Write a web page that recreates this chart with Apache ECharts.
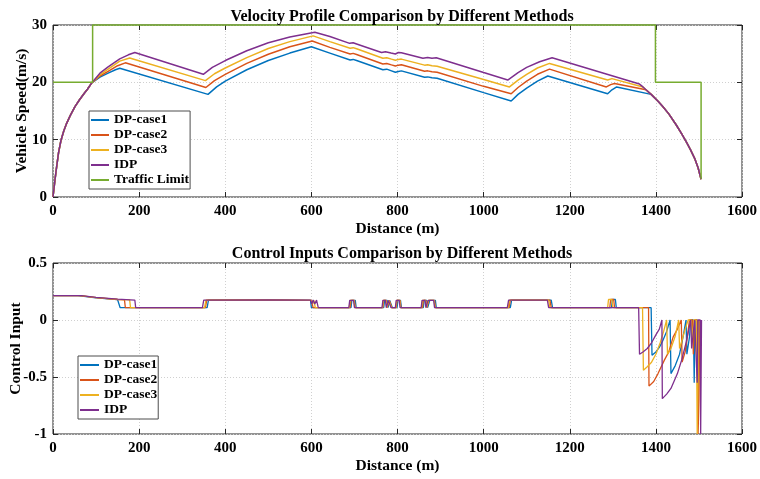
<!DOCTYPE html>
<html>
<head>
<meta charset="utf-8">
<script src="https://cdn.jsdelivr.net/npm/echarts@6/dist/echarts.min.js"></script>
<style>
html,body{margin:0;padding:0;background:#fff;}
#chart{width:760px;height:479px;}
</style>
</head>
<body>
<div id="chart"></div>
<script>
// ---------- data ----------
var xTicks = [0, 200, 400, 600, 800, 1000, 1200, 1400, 1600];
var speedTicks = [0, 10, 20, 30];
var ctrlTicks = [-1, -0.5, 0, 0.5];

// common acceleration start (distance m, speed m/s)
var launch = [[0,0],[2,0.2],[4.6,3.0],[8.5,5.3],[13,7.8],[18.6,9.9],[25,11.5],[31.7,12.85],[40,14.2],[51,15.75],[62,17.0],[72.7,18.1],[80,18.8],[90,19.9]];
// common braking tail
var brakeTail = [[1362,19.7],[1370,19.2],[1377,18.7],[1389,17.9],[1405,16.7],[1416,15.8],[1430,14.5],[1447,12.6],[1460,11.0],[1470,9.7],[1480,8.3],[1490,6.75],[1498,5.1],[1505,3.1]];

var dp1Speed = [[109,20.9],[128,21.6],[145,22.2],[155,22.45],[360,17.9],[380,19.2],[400,20.2],[450,22.2],[500,23.8],[550,25.1],[600,26.2],[643,25.1],[690,23.9],[697,24.0],[705,23.8],[766,22.2],[775,22.3],[786,22.0],[795,21.75],[802,21.9],[809,22.0],[863,20.9],[870,20.95],[880,20.8],[892,20.7],[1000,18.2],[1064,16.75],[1080,17.9],[1100,19.0],[1125,20.2],[1149,21.1],[1288,18.0],[1298,18.7],[1309,19.2]];
var dp2Speed = [[109,21.1],[128,21.9],[150,22.9],[168,23.4],[355,19.1],[375,20.3],[400,21.4],[450,23.3],[500,24.9],[550,26.2],[602,27.2],[643,26.1],[690,24.95],[697,25.05],[705,24.85],[766,23.2],[775,23.3],[786,23.05],[795,22.85],[802,23.0],[809,23.05],[863,21.95],[870,22.0],[880,21.85],[892,21.75],[1000,19.3],[1064,18.0],[1080,19.1],[1100,20.2],[1125,21.4],[1153,22.3],[1285,19.2],[1295,19.6],[1304,19.8]];
var dp3Speed = [[109,21.3],[128,22.3],[155,23.7],[178,24.25],[354,20.3],[375,21.5],[400,22.5],[450,24.3],[500,25.9],[550,27.1],[604,28.1],[643,27.1],[690,25.95],[697,26.05],[705,25.85],[766,24.2],[775,24.3],[786,24.05],[795,23.85],[802,24.0],[809,24.05],[863,23.0],[870,23.05],[880,22.9],[892,22.8],[1000,20.5],[1060,19.2],[1080,20.4],[1100,21.4],[1125,22.5],[1153,23.3],[1288,20.4],[1298,20.65]];
var idpSpeed = [[109,21.6],[128,22.7],[155,24.1],[175,24.8],[190,25.2],[349,21.4],[370,22.6],[400,23.8],[450,25.5],[500,26.9],[550,27.9],[608,28.75],[643,28.0],[689,26.8],[697,26.9],[705,26.7],[763,25.2],[772,25.35],[785,25.1],[795,24.95],[802,25.2],[809,25.15],[859,24.2],[870,24.35],[880,24.2],[890,24.3],[1000,21.7],[1056,20.4],[1080,21.7],[1100,22.6],[1130,23.6],[1159,24.3]];
var trafficLimit = [[0,20],[92,20],[92,30],[1399,30],[1399,20],[1505,20],[1505,3.2]];

// control inputs (distance m, input)
var dp1Ctrl = [[0,0.213],[58,0.213],[100,0.194],[150,0.178],[154,0.176],[156,0.108],[358,0.108],[361,0.175],[500,0.177],[598,0.172],[600,0.108],[692,0.108],[694,0.172],[702,0.172],[704,0.108],[768,0.108],[770,0.172],[776,0.172],[778,0.108],[780,0.108],[782,0.172],[786,0.172],[788,0.108],[799,0.108],[801,0.172],[807,0.172],[809,0.108],[860,0.108],[862,0.172],[868,0.172],[870,0.108],[873,0.108],[875,0.172],[888,0.172],[890,0.108],[1062,0.108],[1065,0.175],[1157,0.175],[1160,0.108],[1297,0.108],[1299,0.18],[1306,0.18],[1308,0.108],[1389,0.108],[1391,-0.31],[1400,-0.28],[1408,-0.24],[1415,-0.19],[1425,-0.1],[1433,0],[1435,-0.47],[1445,-0.4],[1455,-0.3],[1463,-0.15],[1470,0],[1472,-0.3],[1478,-0.15],[1481,0],[1487,0],[1489,-0.55],[1491,0],[1496,0],[1498,-0.85],[1500,0]];
var dp2Ctrl = [[0,0.213],[62,0.213],[100,0.196],[150,0.18],[166,0.176],[168,0.108],[354,0.108],[357,0.175],[500,0.177],[600,0.172],[604,0.108],[690,0.108],[692,0.172],[700,0.172],[702,0.108],[766,0.108],[768,0.172],[774,0.172],[776,0.108],[779,0.108],[781,0.172],[785,0.172],[787,0.108],[797,0.108],[799,0.172],[806,0.172],[808,0.108],[858,0.108],[860,0.172],[866,0.172],[868,0.108],[871,0.108],[873,0.172],[886,0.172],[888,0.108],[1059,0.108],[1062,0.175],[1154,0.175],[1157,0.108],[1293,0.108],[1295,0.18],[1302,0.18],[1304,0.108],[1383,0.108],[1384,-0.58],[1395,-0.54],[1405,-0.47],[1420,-0.35],[1430,-0.28],[1440,-0.15],[1450,-0.08],[1459,0],[1461,-0.37],[1468,-0.28],[1473,-0.15],[1478,0],[1485,0],[1487,-0.3],[1490,0],[1496,0],[1498,-1],[1500,-0.7],[1502,0]];
var dp3Ctrl = [[0,0.213],[64,0.213],[100,0.197],[150,0.181],[178,0.176],[180,0.108],[352,0.108],[355,0.175],[500,0.177],[600,0.172],[603,0.14],[606,0.172],[609,0.108],[688,0.108],[690,0.172],[699,0.172],[701,0.108],[765,0.108],[767,0.172],[773,0.172],[775,0.108],[778,0.108],[780,0.172],[784,0.172],[786,0.108],[796,0.108],[798,0.172],[805,0.172],[807,0.108],[856,0.108],[858,0.172],[865,0.172],[867,0.108],[870,0.108],[872,0.172],[885,0.172],[887,0.108],[1057,0.108],[1060,0.175],[1151,0.175],[1154,0.108],[1288,0.108],[1290,0.18],[1298,0.18],[1300,0.108],[1369,0.108],[1371,-0.44],[1380,-0.41],[1390,-0.37],[1400,-0.3],[1410,-0.2],[1418,-0.1],[1425,0],[1427,-0.3],[1435,-0.25],[1445,-0.14],[1453,0],[1455,-0.25],[1462,-0.16],[1468,-0.08],[1475,0],[1482,0],[1484,-0.2],[1488,0],[1494,0],[1496,-1],[1499,-1],[1500,0]];
var idpCtrl = [[0,0.213],[66,0.213],[100,0.199],[150,0.183],[190,0.175],[192,0.108],[347,0.108],[350,0.175],[500,0.177],[598,0.175],[601,0.14],[604,0.175],[608,0.14],[612,0.175],[616,0.108],[687,0.108],[689,0.172],[698,0.172],[700,0.108],[764,0.108],[766,0.172],[772,0.172],[774,0.108],[777,0.108],[779,0.172],[783,0.172],[785,0.108],[795,0.108],[797,0.172],[804,0.172],[806,0.108],[855,0.108],[857,0.172],[864,0.172],[866,0.108],[869,0.108],[871,0.172],[884,0.172],[886,0.108],[1055,0.108],[1058,0.175],[1148,0.175],[1151,0.108],[1360,0.108],[1362,-0.30],[1370,-0.28],[1380,-0.25],[1390,-0.2],[1400,-0.13],[1408,-0.08],[1414,0],[1415,-0.69],[1425,-0.65],[1435,-0.6],[1450,-0.47],[1460,-0.35],[1470,-0.2],[1481,0],[1483,-0.25],[1490,0],[1494,0],[1496,-0.55],[1498,0],[1503,0],[1504,-1],[1505,-1],[1506,0]];

var names = ['DP-case1', 'DP-case2', 'DP-case3', 'IDP', 'Traffic Limit'];
var colors = ['#0072BD', '#D95319', '#EDB120', '#7E2F8E', '#77AC30'];

// ---------- chart ----------
var FONT = '"Liberation Serif", "Times New Roman", serif';
var chart = echarts.init(document.getElementById('chart'), null, {renderer: 'canvas'});

var grids = [
  {left: 53, right: 18, top: 25, height: 172, show: true, borderColor: '#262626', borderWidth: 1,
   backgroundColor: '#fff', containLabel: false, outerBoundsMode: 'none'},
  {left: 53, right: 18, top: 263, height: 171, show: true, borderColor: '#262626', borderWidth: 1,
   backgroundColor: '#fff', containLabel: false, outerBoundsMode: 'none'}
];

function plainNum(v) { return String(v); }

function mainX(gi) {
  return {
    type: 'value', gridIndex: gi, min: 0, max: 1600, interval: 200, position: 'bottom',
    name: 'Distance (m)', nameLocation: 'middle', nameGap: 24, nameMoveOverlap: false,
    nameTextStyle: {fontFamily: FONT, fontWeight: 'bold', fontSize: 15.5, color: '#000'},
    axisLine: {show: false, onZero: false},
    axisTick: {show: true, inside: true, length: 5, lineStyle: {color: '#262626'}},
    axisLabel: {fontFamily: FONT, fontWeight: 'bold', fontSize: 15, color: '#000', margin: 7, formatter: plainNum},
    splitLine: {show: true, lineStyle: {color: '#d0d0d0', type: [1, 2], width: 1}}
  };
}
function topX(gi) {
  return {
    type: 'value', gridIndex: gi, min: 0, max: 1600, interval: 200, position: 'top',
    axisLine: {show: false, onZero: false},
    axisTick: {show: true, inside: true, length: 5, lineStyle: {color: '#262626'}},
    axisLabel: {show: false}, splitLine: {show: false}
  };
}
function yAxes(gi, min, max, interval, name, gap) {
  return [{
    type: 'value', gridIndex: gi, min: min, max: max, interval: interval, position: 'left',
    name: name, nameLocation: 'middle', nameGap: gap, nameRotate: 90, nameMoveOverlap: false,
    nameTextStyle: {fontFamily: FONT, fontWeight: 'bold', fontSize: 15.5, color: '#000'},
    axisLine: {show: false, onZero: false},
    axisTick: {show: true, inside: true, length: 5, lineStyle: {color: '#262626'}},
    axisLabel: {fontFamily: FONT, fontWeight: 'bold', fontSize: 15, color: '#000', margin: 6, formatter: plainNum},
    splitLine: {show: true, lineStyle: {color: '#d0d0d0', type: [1, 2], width: 1}}
  }, {
    type: 'value', gridIndex: gi, min: min, max: max, interval: interval, position: 'right',
    axisLine: {show: false, onZero: false},
    axisTick: {show: true, inside: true, length: 5, lineStyle: {color: '#262626'}},
    axisLabel: {show: false}, splitLine: {show: false}
  }];
}

function lineSeries(name, data, xi, yi, color, width, extra) {
  var s = {
    name: name, type: 'line', data: data, xAxisIndex: xi, yAxisIndex: yi,
    symbol: 'none', showSymbol: false, smooth: false, animation: false,
    lineStyle: {color: color, width: width}, itemStyle: {color: color},
    emphasis: {disabled: true}
  };
  if (extra) { for (var k in extra) s[k] = extra[k]; }
  return s;
}

var speedSets = [launch.concat(dp1Speed, brakeTail.slice(3)),
                 launch.concat(dp2Speed, brakeTail.slice(2)),
                 launch.concat(dp3Speed, brakeTail.slice(1)),
                 launch.concat(idpSpeed, brakeTail)];
var ctrlSets = [dp1Ctrl, dp2Ctrl, dp3Ctrl, idpCtrl];

var series = [];
for (var i = 0; i < 4; i++) series.push(lineSeries(names[i], speedSets[i], 0, 0, colors[i], 1.5));
series.push(lineSeries(names[4], trafficLimit, 0, 0, colors[4], 1.5, {clip: false}));
for (var j = 0; j < 4; j++) series.push(lineSeries(names[j], ctrlSets[j], 2, 2, colors[j], 1.3));

var legendText = {fontFamily: FONT, fontWeight: 'bold', fontSize: 13.5, color: '#000', lineHeight: 14};

var y0 = yAxes(0, 0, 30, 10, 'Vehicle Speed(m/s)', 23);
var y1 = yAxes(1, -1, 0.5, 0.5, 'Control Input', 29);

chart.setOption({
  backgroundColor: '#fff',
  animation: false,
  title: [
    {text: 'Velocity Profile Comparison by Different Methods', left: 397, top: 4, textAlign: 'center',
     textStyle: {fontFamily: FONT, fontWeight: 'bold', fontSize: 16, color: '#000'}},
    {text: 'Control Inputs Comparison by Different Methods', left: 397, top: 241, textAlign: 'center',
     textStyle: {fontFamily: FONT, fontWeight: 'bold', fontSize: 16, color: '#000'}}
  ],
  grid: grids,
  xAxis: [mainX(0), topX(0), mainX(1), topX(1)],
  yAxis: [y0[0], y0[1], y1[0], y1[1]],
  legend: [
    {data: names, orient: 'vertical', left: 89, top: 111, icon: 'rect', itemWidth: 18, itemHeight: 2, itemGap: 1,
     padding: [2, 1, 2, 2], backgroundColor: '#fff', borderColor: '#4d4d4d', borderWidth: 1,
     textStyle: legendText, selectedMode: false},
    {data: names.slice(0, 4), orient: 'vertical', left: 78, top: 356, icon: 'rect', itemWidth: 19, itemHeight: 2, itemGap: 1,
     padding: [2, 1, 2, 2], backgroundColor: '#fff', borderColor: '#4d4d4d', borderWidth: 1,
     textStyle: legendText, selectedMode: false}
  ],
  series: series
});
</script>
</body>
</html>
